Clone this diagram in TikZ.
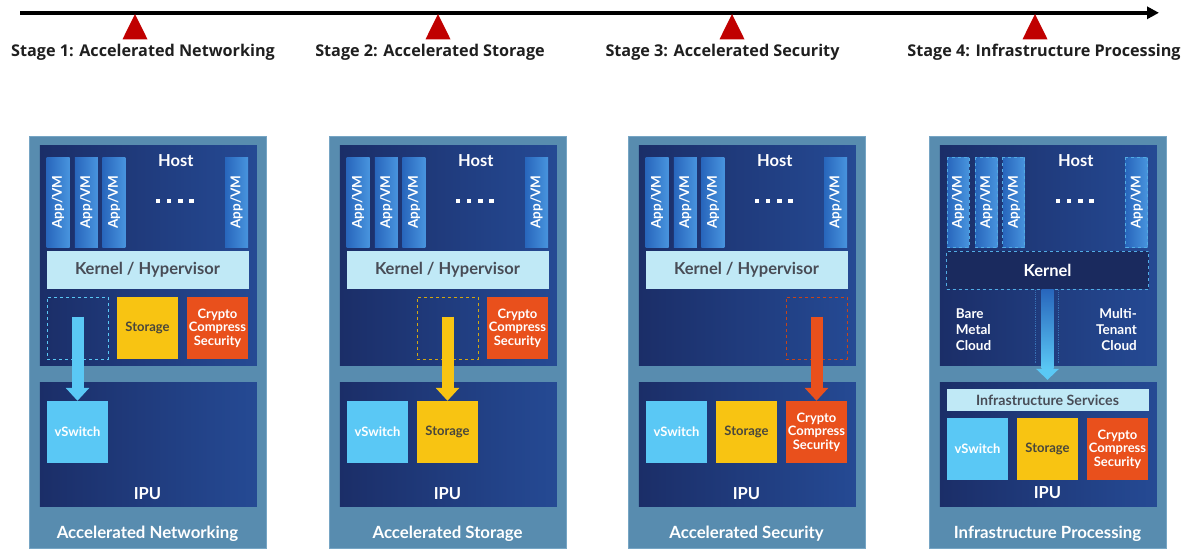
\documentclass[tikz,border=0pt]{standalone}
\usepackage{fontspec}
\setmainfont{Open Sans}
\newfontfamily\panelfont{Lato}
\usepackage{tikz}
\usetikzlibrary{arrows.meta,calc}
\usepackage{xcolor}
\definecolor{stagered}{RGB}{192,0,0}
\definecolor{panelblue}{RGB}{88,140,175}
\definecolor{paneledge}{RGB}{118,165,196}
\definecolor{navyA}{RGB}{27,46,104}
\definecolor{navyB}{RGB}{37,74,148}
\definecolor{appA}{RGB}{40,102,188}
\definecolor{appB}{RGB}{72,148,222}
\definecolor{kernlight}{RGB}{192,233,246}
\definecolor{kerntext}{RGB}{72,76,86}
\definecolor{vswblue}{RGB}{90,200,245}
\definecolor{storyellow}{RGB}{248,196,18}
\definecolor{cryporange}{RGB}{233,80,28}
\definecolor{stortext}{RGB}{72,70,60}
\definecolor{darkslot}{RGB}{26,42,94}
\definecolor{dashblue}{RGB}{82,172,228}
\tikzset{
  panelbox/.style={draw=paneledge,line width=0.6pt,fill=panelblue,minimum width=237pt,minimum height=412pt,inner sep=0pt},
  hostbox/.style={left color=navyA,right color=navyB,minimum width=217pt,minimum height=220pt,inner sep=0pt},
  ipubox/.style={hostbox,minimum height=124pt},
  appbox/.style={rotate=90,left color=appA,right color=appB,minimum width=90pt,minimum height=23pt,inner sep=0pt,
    text=white,font=\panelfont\bfseries\fontsize{13.5}{15}\selectfont},
  appdash/.style={appbox,fill=darkslot,draw=dashblue,dashed,line width=0.9pt,minimum height=22pt},
  kernbox/.style={fill=kernlight,minimum width=202pt,minimum height=38pt,inner sep=0pt,
    text=kerntext,font=\panelfont\bfseries\fontsize{16.5}{19}\selectfont},
  kerndash/.style={kernbox,fill=darkslot,draw=dashblue,dashed,line width=0.9pt,text=white},
  svcbar/.style={fill=kernlight,minimum width=202pt,minimum height=22pt,inner sep=0pt,
    text=kerntext,font=\panelfont\bfseries\fontsize{14.2}{16}\selectfont},
  cellbox/.style={minimum width=61pt,minimum height=62pt,inner sep=0pt,align=center,
    font=\panelfont\bfseries\fontsize{13}{13.5}\selectfont},
  vswcell/.style={cellbox,fill=vswblue,text=white},
  storcell/.style={cellbox,fill=storyellow,text=stortext},
  crypcell/.style={cellbox,fill=cryporange,text=white},
  slotbox/.style={cellbox,dashed,line width=1pt},
  hostlabel/.style={anchor=base,inner sep=0pt,text=white,font=\panelfont\bfseries\fontsize{16.5}{19}\selectfont},
  panellabel/.style={anchor=base,inner sep=0pt,text=white,font=\panelfont\bfseries\fontsize{16.8}{19}\selectfont},
  cloudlabel/.style={inner sep=0pt,text=white,font=\panelfont\bfseries\fontsize{13.5}{15.7}\selectfont},
  stagelabel/.style={anchor=base,inner sep=0pt,text=black!88,font=\bfseries\fontsize{16.2}{19}\selectfont},
  timeline/.style={line width=4pt,-{Triangle[length=12pt,width=12pt]}},
  fwdarrow/.style={line width=12pt,-{Triangle[length=13pt,width=23pt]}},
  divider/.style={draw=dashblue!40!navyB,densely dotted,line width=0.8pt}
}
\begin{document}
\begin{tikzpicture}[x=1pt,y=-1pt]
  \useasboundingbox (0,0) rectangle (1196,559);
  \coordinate (tl0) at (20,12.8);
  \coordinate (tl1) at (1159,12.8);
  \draw[timeline] (tl0) -- (tl1);
  \coordinate (m1) at (135,14); \coordinate (m2) at (438,14);
  \coordinate (m3) at (732,14); \coordinate (m4) at (1035,14);
  \fill[stagered] (m1) -- ++(12.5,25.3) -- ++(-25,0) -- cycle;
  \fill[stagered] (m2) -- ++(12.5,25.3) -- ++(-25,0) -- cycle;
  \fill[stagered] (m3) -- ++(12.5,25.3) -- ++(-25,0) -- cycle;
  \fill[stagered] (m4) -- ++(12.5,25.3) -- ++(-25,0) -- cycle;
  \node[stagelabel] (s1) at (143,57) {Stage 1: Accelerated Networking};
  \node[stagelabel] (s2) at (430,57) {Stage 2: Accelerated Storage};
  \node[stagelabel] (s3) at (722.5,57) {Stage 3: Accelerated Security};
  \node[stagelabel] (s4) at (1044,57) {Stage 4: Infrastructure Processing};

  \node[panelbox] (p1panel) at (147.5,342) {};
  \node[hostbox] (p1host) at (148.3,255) {};
  \node[ipubox] (p1ipu) at (148.3,444) {};
  \node[hostlabel] (p1hostl) at (175.7,166) {Host};
  \node[appbox] (p1app1) at (58,202) {App/VM};
  \node[appbox] (p1app2) at (86.3,202) {App/VM};
  \node[appbox] (p1app3) at (113.9,202) {App/VM};
  \node[appbox] (p1app4) at (236.6,202) {App/VM};
  \node[kernbox] (p1kern) at (147.5,270) {Kernel / Hypervisor};
  \node[slotbox,draw=vswblue] (p1slot) at (77.5,328) {};
  \node[storcell] (p1stor) at (147.5,328) {Storage};
  \node[crypcell] (p1cryp) at (217.5,328) {Crypto\\Compress\\Security};
  \node[vswcell] (p1vsw) at (77.5,432) {vSwitch};
  \node[hostlabel] (p1ipul) at (147.5,499) {IPU};
  \node[panellabel] (p1name) at (147.5,538) {Accelerated Networking};
  \draw[fwdarrow,draw=vswblue] ([yshift=-20pt]p1slot.north) -- (p1vsw.north);

  \node[panelbox] (p2panel) at (447.5,342) {};
  \node[hostbox] (p2host) at (448.3,255) {};
  \node[ipubox] (p2ipu) at (448.3,444) {};
  \node[hostlabel] (p2hostl) at (475.7,166) {Host};
  \node[appbox] (p2app1) at (358,202) {App/VM};
  \node[appbox] (p2app2) at (386.3,202) {App/VM};
  \node[appbox] (p2app3) at (413.9,202) {App/VM};
  \node[appbox] (p2app4) at (536.6,202) {App/VM};
  \node[kernbox] (p2kern) at (447.5,270) {Kernel / Hypervisor};
  \node[slotbox,draw=storyellow!85!black] (p2slot) at (447.5,328) {};
  \node[crypcell] (p2cryp) at (517.5,328) {Crypto\\Compress\\Security};
  \node[vswcell] (p2vsw) at (377.5,432) {vSwitch};
  \node[storcell] (p2stor) at (447.5,432) {Storage};
  \node[hostlabel] (p2ipul) at (447.5,499) {IPU};
  \node[panellabel] (p2name) at (447.5,538) {Accelerated Storage};
  \draw[fwdarrow,draw=storyellow] ([yshift=-20pt]p2slot.north) -- (p2stor.north);

  \node[panelbox] (p3panel) at (746.5,342) {};
  \node[hostbox] (p3host) at (747.3,255) {};
  \node[ipubox] (p3ipu) at (747.3,444) {};
  \node[hostlabel] (p3hostl) at (774.7,166) {Host};
  \node[appbox] (p3app1) at (657,202) {App/VM};
  \node[appbox] (p3app2) at (685.3,202) {App/VM};
  \node[appbox] (p3app3) at (712.9,202) {App/VM};
  \node[appbox] (p3app4) at (835.6,202) {App/VM};
  \node[kernbox] (p3kern) at (746.5,270) {Kernel / Hypervisor};
  \node[slotbox,draw=cryporange!85!black] (p3slot) at (816.5,328) {};
  \node[vswcell] (p3vsw) at (676.5,432) {vSwitch};
  \node[storcell] (p3stor) at (746.5,432) {Storage};
  \node[crypcell] (p3cryp) at (816.5,432) {Crypto\\Compress\\Security};
  \node[hostlabel] (p3ipul) at (746.5,499) {IPU};
  \node[panellabel] (p3name) at (746.5,538) {Accelerated Security};
  \draw[fwdarrow,draw=cryporange] ([yshift=-20pt]p3slot.north) -- (p3cryp.north);

  \node[panelbox] (p4panel) at (1047.5,342) {};
  \node[hostbox] (p4host) at (1048.3,255) {};
  \node[ipubox] (p4ipu) at (1048.3,444) {};
  \node[hostlabel] (p4hostl) at (1075.7,166) {Host};
  \node[appdash] (p4app1) at (958,202) {App/VM};
  \node[appdash] (p4app2) at (986.3,202) {App/VM};
  \node[appdash] (p4app3) at (1013.9,202) {App/VM};
  \node[appdash] (p4app4) at (1136.6,202) {App/VM};
  \node[kerndash] (p4kern) at (1047.5,270) {Kernel};
  \draw[divider] ($(p4kern.south)+(-12.5,1)$) -- ($(p4kern.south |- p4host.south)+(-12.5,-1)$);
  \draw[divider] ($(p4kern.south)+(10.8,1)$) -- ($(p4kern.south |- p4host.south)+(10.8,-1)$);
  \node[cloudlabel,anchor=west,align=left] (p4bare) at (955.7,329.5) {Bare\\Metal\\Cloud};
  \node[cloudlabel,anchor=east,align=right] (p4multi) at (1137,329.5) {Multi-\\Tenant\\Cloud};
  \node[svcbar] (p4svc) at (1047.5,400) {Infrastructure Services};
  \node[vswcell] (p4vsw) at (977.5,449) {vSwitch};
  \node[storcell] (p4stor) at (1047.5,449) {Storage};
  \node[crypcell] (p4cryp) at (1117.5,449) {Crypto\\Compress\\Security};
  \node[hostlabel] (p4ipul) at (1047.5,498) {IPU};
  \node[panellabel] (p4name) at (1047.5,538) {Infrastructure Processing};
  \shade[top color=appA,bottom color=vswblue] ($(p4kern.south)+(-6,0)$) rectangle ($(p4kern.south |- p4ipu.north)+(6,-13)$);
  \fill[vswblue] ($(p4kern.south |- p4ipu.north)+(-11.5,-13)$) -- ($(p4kern.south |- p4ipu.north)+(11.5,-13)$)
    -- ($(p4kern.south |- p4ipu.north)+(0,-2)$) -- cycle;

  \foreach \p in {29,329,628,929}
    \foreach \k in {0,...,3}
      \fill[white] (\p+126.5+11.3*\k,198.5) rectangle ++(4.5,4.5);
\end{tikzpicture}
\end{document}
